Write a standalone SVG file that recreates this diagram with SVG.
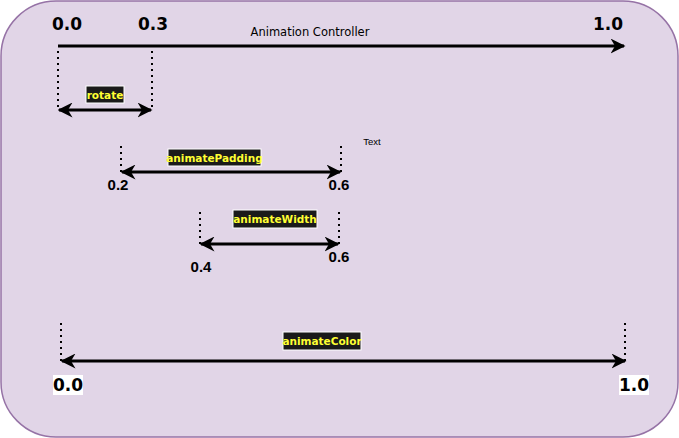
<svg xmlns="http://www.w3.org/2000/svg" width="679" height="438" viewBox="0 0 679 438">
<style>
.big{font-family:"DejaVu Sans",sans-serif;font-weight:bold;font-size:17px;text-anchor:middle}
.num{font-family:"Liberation Sans",sans-serif;font-weight:bold;font-size:15px;text-anchor:middle}
.lbl{font-family:"DejaVu Sans",sans-serif;font-weight:bold;font-size:10.5px;fill:#ffff33;text-anchor:middle}
.lb{fill:#1a1a1a;stroke:#ffffff;stroke-width:1}
.dot{stroke:#000;stroke-width:2;stroke-dasharray:2 4}
.arr{stroke:#000;stroke-width:3;fill:none}
</style>
<defs>
<marker id="ah" viewBox="0 0 10 10" refX="9" refY="5" markerWidth="5" markerHeight="5" orient="auto-start-reverse" markerUnits="strokeWidth">
<path d="M0,0 L10,5 L0,10 L3,5 Z" fill="#000"/>
</marker>
</defs>
<rect x="1" y="1" width="677" height="436" rx="55" fill="#e1d5e7" stroke="#9673a6" stroke-width="1.5"/>
<g id="connectors">
<line class="arr" x1="58" y1="46" x2="624" y2="46" marker-end="url(#ah)"/>
<line class="dot" x1="58" y1="51" x2="58" y2="108"/>
<line class="dot" x1="152" y1="51" x2="152" y2="108"/>
<line class="arr" x1="59" y1="110" x2="151" y2="110" marker-start="url(#ah)" marker-end="url(#ah)"/>
<line class="dot" x1="121" y1="146" x2="121" y2="172"/>
<line class="dot" x1="341" y1="146" x2="341" y2="172"/>
<line class="arr" x1="122" y1="172" x2="340" y2="172" marker-start="url(#ah)" marker-end="url(#ah)"/>
<line class="dot" x1="200" y1="212" x2="200" y2="244"/>
<line class="dot" x1="339" y1="212" x2="339" y2="244"/>
<line class="arr" x1="201" y1="244" x2="338" y2="244" marker-start="url(#ah)" marker-end="url(#ah)"/>
<line class="dot" x1="61" y1="323" x2="61" y2="361"/>
<line class="dot" x1="625" y1="323" x2="625" y2="361"/>
<line class="arr" x1="62" y1="361" x2="625" y2="361" marker-start="url(#ah)" marker-end="url(#ah)"/>
</g>
<g id="top-labels">
<text class="big" x="67" y="30">0.0</text>
<text class="big" x="153" y="30">0.3</text>
<text class="big" x="608" y="30">1.0</text>
<text x="310" y="36" font-family="DejaVu Sans,sans-serif" font-size="11.5" text-anchor="middle">Animation Controller</text>
</g>
<g id="rotate"><rect class="lb" x="86" y="86" width="38" height="17"/><text class="lbl" x="105" y="98.5">rotate</text></g>
<g id="animatePadding"><rect class="lb" x="168" y="149" width="93" height="17"/><text class="lbl" x="214.5" y="161.5">animatePadding</text>
<text class="num" x="118" y="190">0.2</text><text class="num" x="339" y="190">0.6</text>
<text x="372" y="145" font-family="Liberation Sans,sans-serif" font-size="9.5" text-anchor="middle">Text</text></g>
<g id="animateWidth"><rect class="lb" x="233" y="210" width="84" height="18"/><text class="lbl" x="275" y="223">animateWidth</text>
<text class="num" x="201" y="272">0.4</text><text class="num" x="339" y="262">0.6</text></g>
<g id="animateColor"><rect class="lb" x="283" y="332" width="78" height="18"/><text class="lbl" x="322" y="345">animateColor</text>
<rect x="53" y="375" width="30" height="20" fill="#fff"/><text class="big" x="68" y="391">0.0</text>
<rect x="619" y="375" width="30" height="20" fill="#fff"/><text class="big" x="634" y="391">1.0</text></g>
</svg>
